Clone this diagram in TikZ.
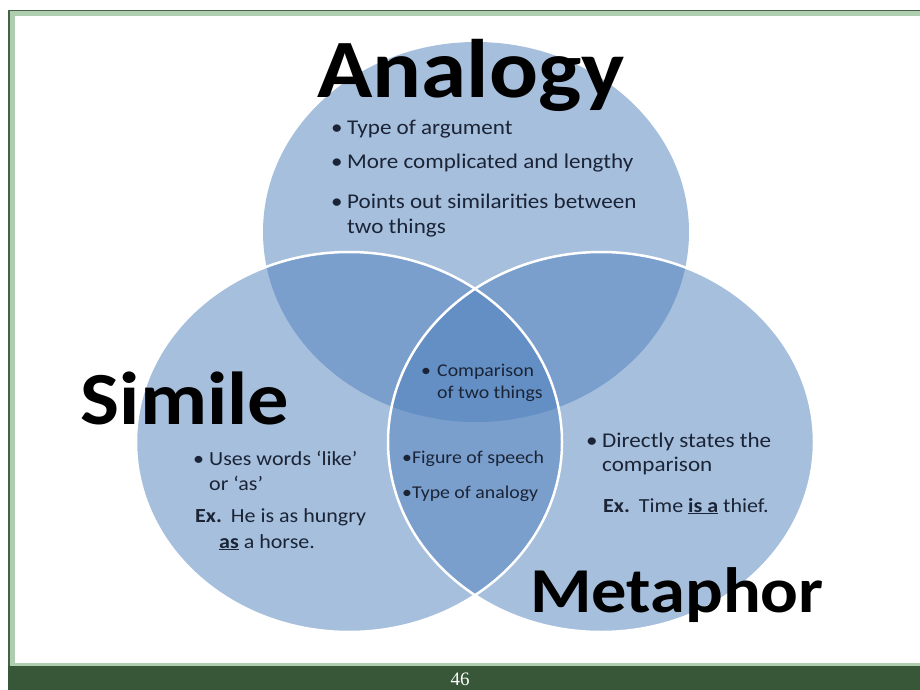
\documentclass[tikz,border=0pt]{standalone}
\usepackage{fontspec}
\setmainfont{Carlito}[FakeStretch=1.1]
\newfontfamily\pagenofont{Liberation Serif}

\definecolor{vennblue}{RGB}{79,129,189}
\definecolor{txtnavy}{RGB}{27,36,54}
\definecolor{framelight}{RGB}{175,205,175}
\definecolor{frameline}{RGB}{72,96,72}
\definecolor{bargreen}{RGB}{56,86,56}

\newcommand{\bodyfont}{\fontsize{21}{25}\selectfont}
\newcommand{\smallfont}{\fontsize{18}{22}\selectfont}
\newcommand{\bul}{\makebox[16pt][l]{•}}
\newcommand{\hang}{\hspace*{16pt}}

\tikzset{
    venn/.style={fill=vennblue, fill opacity=0.5},
    vennline/.style={draw=white, line width=2.5pt},
    headword/.style={anchor=base, inner sep=0pt, font=\bfseries\fontsize{#1}{#1}\selectfont},
    body/.style={anchor=base west, inner sep=0pt, align=left, text=txtnavy},
}

\begin{document}
\begin{tikzpicture}[x=1pt, y=-1pt]
    \useasboundingbox (0,0) rectangle (920,690);

    % slide frame
    \fill[framelight] (8,10) rectangle (920,666);
    \fill[white] (15,16) rectangle (920,663);
    \fill[bargreen] (8,666) rectangle (920,690);
    \draw[frameline, line width=1.5pt] (8.75,666) -- (8.75,10.75) -- (920,10.75);
    \node[text=white, font=\pagenofont\fontsize{19}{19}\selectfont] (pageno) at (460,679) {46};

    \fill[venn] (476,232) ellipse [x radius=213, y radius=190];
    \fill[venn] (349,442) ellipse [x radius=213, y radius=190];
    \fill[venn] (601,442) ellipse [x radius=213, y radius=190];
    \draw[vennline] (349,442) ellipse [x radius=213, y radius=190];
    \draw[vennline] (601,442) ellipse [x radius=213, y radius=190];

    \node[headword=83] (analogy) at (471,98) {Analogy};
    \node[headword=75] (simile) at (185,424) {Simile};
    \node[headword=64] (metaphor) at (677,612) {Metaphor};

    % multi-line nodes sit on the baseline of their last line
    \node[body, font=\bodyfont] (argument) at (331,135) {\bul Type of argument};
    \node[body, font=\bodyfont] (lengthy) at (331,168) {\bul More complicated and lengthy};
    \node[body, font=\bodyfont] (similar) at (331,233) {\bul Points out similarities between\\\hang two things};

    \node[body, font=\smallfont] (comparison) at (421,398) {\bul Comparison\\\hang of two things};
    \node[body, font=\smallfont] (figure) at (402,463) {•Figure of speech};
    \node[body, font=\smallfont] (typeof) at (402,498) {•Type of analogy};

    \node[body, font=\fontsize{20}{25}\selectfont] (likeas) at (193,490) {\bul Uses words ‘like’\\\hang or ‘as’};
    \node[body, font=\fontsize{20}{26}\selectfont] (horse) at (195,548) {\textbf{Ex.}\hspace{9pt}He is as hungry\\\hspace*{24pt}\underline{\textbf{as}} a horse.};

    \node[body, font=\fontsize{21}{24}\selectfont] (directly) at (586,471) {\bul Directly states the\\\hang comparison};
    \node[body, font=\fontsize{20}{24}\selectfont] (thief) at (603,512) {\textbf{Ex.}\hspace{9pt}Time \underline{\textbf{is a}} thief.};
\end{tikzpicture}
\end{document}
